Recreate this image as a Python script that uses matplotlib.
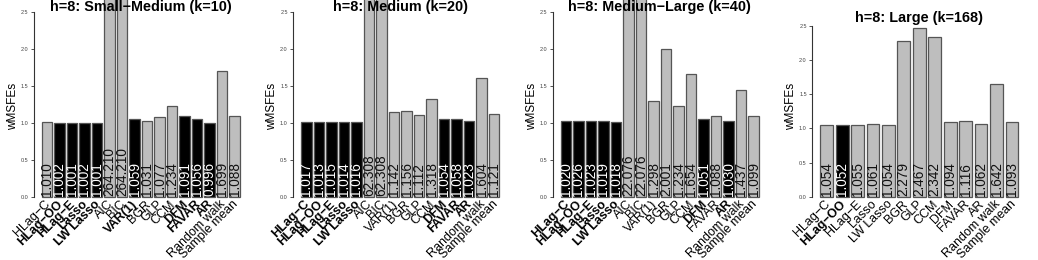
import matplotlib
matplotlib.use('Agg')
import matplotlib.pyplot as plt

plt.rcParams['font.family'] = ['Liberation Sans', 'DejaVu Sans']

W, H, DPI = 1038, 260, 100

# ---- data ----
models_16 = ["HLag−C", "HLag−OO", "HLag−E", "Lasso", "LW Lasso", "AIC", "BIC",
             "VAR(1)", "BGR", "GLP", "CCM", "DFM", "FAVAR", "AR",
             "Random walk", "Sample mean"]
models_13 = ["HLag−C", "HLag−OO", "HLag−E", "Lasso", "LW Lasso", "BGR", "GLP",
             "CCM", "DFM", "FAVAR", "AR", "Random walk", "Sample mean"]

titles = ["h=8: Small−Medium (k=10)", "h=8: Medium (k=20)",
          "h=8: Medium−Large (k=40)", "h=8: Large (k=168)"]

vals_small_medium = [1.010, 1.002, 1.001, 1.002, 1.001, 264.210, 264.210, 1.059,
                     1.031, 1.077, 1.234, 1.091, 1.056, 0.996, 1.699, 1.088]
best_small_medium = [0, 1, 1, 1, 1, 0, 0, 1, 0, 0, 0, 1, 1, 1, 0, 0]

vals_medium = [1.017, 1.013, 1.015, 1.014, 1.016, 62.308, 62.308, 1.142,
               1.156, 1.112, 1.318, 1.054, 1.058, 1.023, 1.604, 1.121]
best_medium = [1, 1, 1, 1, 1, 0, 0, 0, 0, 0, 0, 1, 1, 1, 0, 0]

vals_medium_large = [1.020, 1.026, 1.023, 1.019, 1.018, 22.076, 22.076, 1.298,
                     2.001, 1.234, 1.654, 1.051, 1.088, 1.030, 1.437, 1.099]
best_medium_large = [1, 1, 1, 1, 1, 0, 0, 0, 0, 0, 0, 1, 0, 1, 0, 0]

vals_large = [1.054, 1.052, 1.055, 1.061, 1.054, 2.279, 2.467, 2.342,
              1.094, 1.116, 1.062, 1.642, 1.093]
best_large = [0, 1, 0, 0, 0, 0, 0, 0, 0, 0, 0, 0, 0]

panels = [
    (titles[0], models_16, vals_small_medium, best_small_medium),
    (titles[1], models_16, vals_medium, best_medium),
    (titles[2], models_16, vals_medium_large, best_medium_large),
    (titles[3], models_13, vals_large, best_large),
]

yticks = [0.0, 0.5, 1.0, 1.5, 2.0, 2.5]

fig = plt.figure(figsize=(W / DPI, H / DPI), dpi=DPI)

GRAY = "#bebebe"
EDGE = "#555555"

for p, (title, models, vals, best) in enumerate(panels):
    off = p * 259.5
    left_px = off + 33.8
    width_px = 214.0
    bottom_px = 197.0
    top_px = 11.7 if p < 3 else 25.7
    ax = fig.add_axes([left_px / W, (H - bottom_px) / H, width_px / W,
                       (bottom_px - top_px) / H])
    n = len(models)
    centers = [0.7 + 1.2 * i for i in range(n)]
    rng = 1.2 * n - 0.2
    ax.set_xlim(0.2 - 0.04 * rng, 1.2 * n + 0.04 * rng)
    ax.set_ylim(0, 2.5)
    pxunit = (bottom_px - top_px) / 2.5

    colors = ["black" if b else GRAY for b in best]
    ax.bar(centers, vals, width=1.0, color=colors, edgecolor=EDGE,
           linewidth=0.9, clip_on=False, zorder=2)

    for c, v, b in zip(centers, vals, best):
        ax.text(c, 1.5 / pxunit, f"{v:.3f}", rotation=90, ha='center',
                va='bottom', fontsize=9.8, color='white' if b else '#111111',
                zorder=3, clip_on=False)

    y0 = -5.5 / pxunit
    for c, m, b in zip(centers, models, best):
        ax.text(c + 0.15, y0, m, rotation=45, ha='right', va='center',
                rotation_mode='anchor', fontsize=9.0,
                fontweight='bold' if b else 'normal', color='black',
                clip_on=False)

    for s in ['top', 'right', 'bottom']:
        ax.spines[s].set_visible(False)
    ax.spines['left'].set_bounds(0, 2.5)
    ax.spines['left'].set_color('#333333')
    ax.spines['left'].set_linewidth(0.8)
    ax.set_xticks([])
    ax.set_yticks(yticks)
    ax.set_yticklabels([f"{t:.1f}" for t in yticks])
    ax.tick_params(axis='y', length=2.5, width=0.6, color='#333333',
                   labelsize=4.0, labelcolor='#444444', pad=1.5)
    ax.patch.set_visible(False)

    # title
    ty = 7.5 if p < 3 else 18.0
    fig.text((left_px + width_px / 2) / W, 1 - ty / H, title, ha='center',
             va='center', fontsize=10.4, fontweight='bold', zorder=10)
    # y label
    fig.text((off + 13) / W, 1 - 106 / H, "wMSFEs", rotation=90,
             ha='center', va='center', fontsize=8.5)

fig.savefig("out.png", dpi=DPI)
